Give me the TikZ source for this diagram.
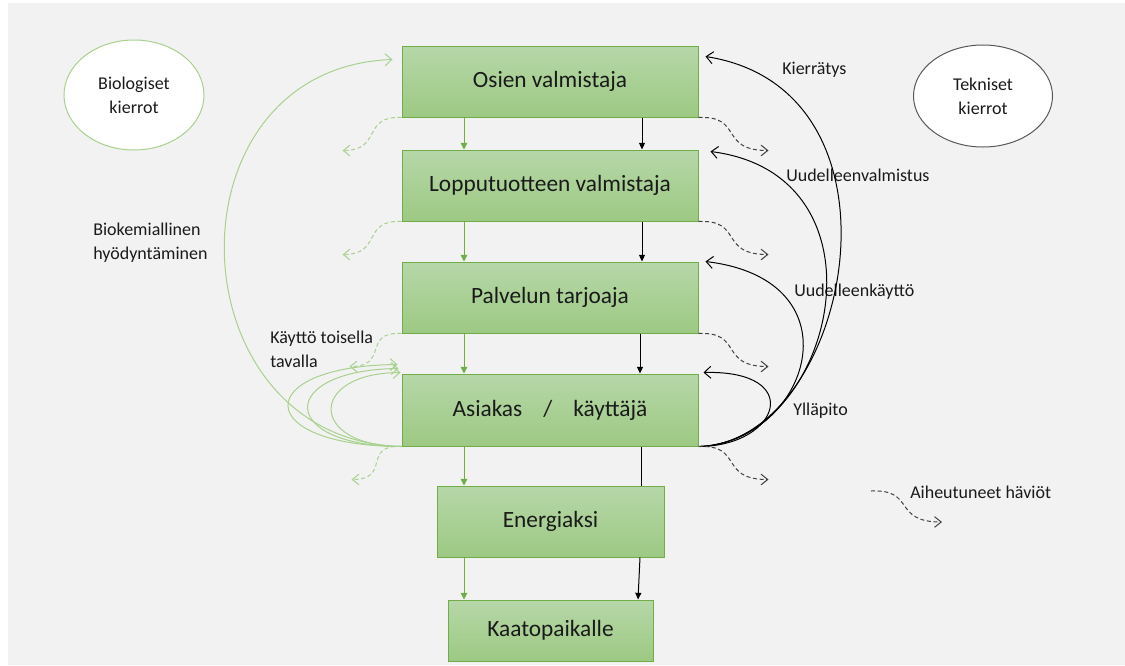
\documentclass[tikz,border=0pt]{standalone}
\usepackage{fontspec}
\setmainfont{Carlito}
\usetikzlibrary{arrows.meta,calc,shapes.geometric}
\definecolor{bg}{HTML}{F2F2F2}
\definecolor{gdark}{HTML}{70AD47}
\definecolor{glight}{HTML}{A9D18E}
\definecolor{btop}{HTML}{B6D7A8}
\definecolor{bbot}{HTML}{9DC983}
\definecolor{txt}{HTML}{1A1A1A}
\definecolor{loss}{HTML}{404040}
\definecolor{egray}{HTML}{595959}
\begin{document}
\begin{tikzpicture}[x=0.75pt,y=-0.75pt,
  box/.style={draw=gdark, line width=0.75pt, top color=btop, bottom color=bbot,
    font=\fontsize{17.5}{21}\selectfont, text=txt, inner sep=0pt},
  lblfont/.style={font=\fontsize{13.5}{18}\selectfont, text=txt},
  lbl/.style={lblfont, inner sep=0pt, anchor=west, align=left},
  ell/.style={ellipse, fill=white, line width=0.75pt, lblfont, align=center, inner sep=0pt},
  garr/.style={draw=gdark, line width=0.75pt, -{Triangle[length=5pt,width=5pt]}},
  karr/.style={draw=black, line width=0.75pt, -{Triangle[length=5pt,width=4.5pt]}},
  kline/.style={draw=black, line width=0.75pt},
  tech/.style={draw=black, line width=0.75pt, -{Straight Barb[length=5pt,width=9pt]}},
  bio/.style={draw=glight, line width=0.75pt, -{Straight Barb[length=5pt,width=9pt]}},
  lossk/.style={draw=loss, line width=0.75pt, dash pattern=on 3pt off 2pt, -{Straight Barb[length=5pt,width=8pt]}},
  lossg/.style={draw=glight, line width=0.75pt, dash pattern=on 3pt off 2pt, -{Straight Barb[length=5pt,width=8pt]}}
]
\useasboundingbox (0,0) rectangle (1125,665);
\fill[white] (0,0) rectangle (1125,665);
\fill[bg] (8,3) rectangle (1125,665);

% boxes
\node[box, minimum width=222pt, minimum height=53.25pt] (b1) at (550,81.5) {Osien valmistaja};
\node[box, minimum width=222pt, minimum height=53.25pt] (b2) at (550,185.5) {Lopputuotteen valmistaja};
\node[box, minimum width=222pt, minimum height=53.25pt] (b3) at (550,297.5) {Palvelun tarjoaja};
\node[box, minimum width=222pt, minimum height=54pt] (b4) at (550,410) {Asiakas\hspace{0.9em}/\hspace{0.9em}käyttäjä};
\node[box, minimum width=170.25pt, minimum height=53.25pt] (b5) at (550.5,521.5) {Energiaksi};
\node[box, minimum width=153.75pt, minimum height=45.75pt] (b6) at (550.5,630.5) {Kaatopaikalle};

% ellipses
\node[ell, draw=glight, minimum width=105pt, minimum height=82.5pt] (e1) at (134,95) {Biologiset\\kierrot};
\node[ell, draw=egray, minimum width=104.25pt, minimum height=76.5pt] (e2) at (983,96) {Tekniset\\kierrot};

% labels
\node[lbl] (lk) at (782,70) {Kierrätys};
\node[lbl] (lu) at (786,175) {Uudelleenvalmistus};
\node[lbl] (lkay) at (794,292) {Uudelleenkäyttö};
\node[lbl] (ly) at (793,411) {Ylläpito};
\node[lbl] (lh) at (910,492) {Aiheutuneet häviöt};
\node[lbl] (lbio) at (93,243) {Biokemiallinen\\hyödyntäminen};
\node[lbl] (lt) at (270,349) {Käyttö toisella\\tavalla};

% vertical flows
\coordinate (gx) at (464,0);
\coordinate (kx) at (642,0);
\coordinate (kx2) at (640,0);
\coordinate (kx3) at (641,0);
\draw[garr] (b1.south -| gx) -- (b2.north -| gx);
\draw[garr] (b2.south -| gx) -- (b3.north -| gx);
\draw[garr] (b3.south -| gx) -- (b4.north -| gx);
\draw[garr] (b4.south -| gx) -- (b5.north -| gx);
\draw[garr] (b5.south -| gx) -- (b6.north -| gx);
\draw[karr] (b1.south -| kx) -- (b2.north -| kx);
\draw[karr] (b2.south -| kx) -- (b3.north -| kx);
\draw[karr] (b3.south -| kx2) -- (b4.north -| kx2);
\draw[kline] (b4.south -| kx3) -- (b5.north -| kx3);
\draw[karr] (b5.south -| kx2) -- ($(b6.north -| kx2)+(-2,0)$);

% technical cycles
\coordinate (ts) at ($(b4.south east)+(2,0)$);
\draw[tech] (ts) .. controls (850,440) and (920,90) .. ($(b1.north east)+(7,11)$);
\draw[tech] (ts) .. controls (835,440) and (895,175) .. ($(b2.north east)+(12,2)$);
\draw[tech] (ts) .. controls (810,440) and (860,280) .. ($(b3.north east)+(7,0)$);
\draw[tech] (ts) .. controls (780,445) and (805,370) .. ($(b4.north east)+(5,-1)$);

% losses
\foreach \b/\d in {b1/-59,b2/-59,b3/-52,b4/-50} {
  \draw[lossk] (\b.south east) .. controls +(45,-2) and +(-50,0) .. ($(\b.south east)+(70,33)$);
  \draw[lossg] (\b.south west) .. controls +(-40,-2) and +(40,0) .. ($(\b.south west)+(\d,33)$);
}
\coordinate (la) at (871,491);
\coordinate (lb) at (942,522);
\draw[lossk] (la) .. controls +(45,-2) and +(-50,0) .. (lb);

% biological cycles
\draw[bio] (b4.south west) .. controls (172,440) and (162,68) .. ($(b1.north west)+(-9,14)$);
\draw[bio] (b4.south west) .. controls (251,446) and (251,366) .. ($(b4.north west)+(-4,-9)$);
\draw[bio] (b4.south west) .. controls (277,446) and (277,370) .. ($(b4.north west)+(-3,-5)$);
\draw[bio] (b4.south west) .. controls (308,446) and (308,373) .. ($(b4.north west)+(-1,-1)$);
\end{tikzpicture}
\end{document}
